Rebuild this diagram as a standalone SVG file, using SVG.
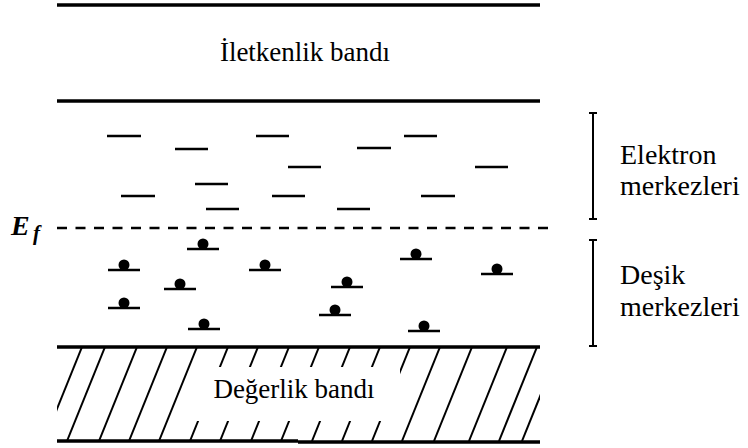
<svg xmlns="http://www.w3.org/2000/svg" width="748" height="448" viewBox="0 0 748 448">
  <defs>
    <style>
      .band { stroke: #000; stroke-width: 3.5; fill: none; }
      .lvl { stroke: #000; stroke-width: 2.5; fill: none; }
      .hatch { stroke: #000; stroke-width: 2; fill: none; }
      .fermi { stroke: #000; stroke-width: 2.5; stroke-dasharray: 10 8.5; fill: none; }
      .brk { stroke: #000; stroke-width: 2; fill: none; }
      .lbl { font-family: "Liberation Serif", "Times New Roman", serif; font-size: 28px; fill: #000; }
      .bandlbl { font-family: "Liberation Serif", "Times New Roman", serif; font-size: 27px; fill: #000; text-anchor: middle; }
      .sym { font-family: "Liberation Serif", "Times New Roman", serif; font-weight: bold; font-style: italic; fill: #000; }
    </style>
    <clipPath id="valenceClip">
      <rect x="57" y="347" width="483" height="94"/>
    </clipPath>
    <!-- hole level: short line with a filled dot resting on it -->
    <g id="hole">
      <line x1="-16" y1="0" x2="16" y2="0" class="lvl"/>
      <circle cx="0" cy="-5" r="5.5" fill="#000"/>
    </g>
  </defs>

  <rect width="748" height="448" fill="#fff"/>

  <!-- conduction band -->
  <g id="conduction-band">
    <line x1="57" y1="5" x2="298" y2="5" class="band"/>
    <line x1="298" y1="5" x2="540" y2="5" class="band"/>
    <line x1="57" y1="101" x2="298" y2="101" class="band"/>
    <line x1="298" y1="101" x2="540" y2="101" class="band"/>
    <text x="305" y="61" class="bandlbl">İletkenlik bandı</text>
  </g>

  <!-- electron trap levels -->
  <g id="electron-levels">
    <line x1="107" y1="136" x2="141" y2="136" class="lvl"/>
    <line x1="175" y1="149" x2="208" y2="149" class="lvl"/>
    <line x1="256" y1="136" x2="289" y2="136" class="lvl"/>
    <line x1="404" y1="136" x2="437" y2="136" class="lvl"/>
    <line x1="357" y1="148" x2="391" y2="148" class="lvl"/>
    <line x1="288" y1="167" x2="321" y2="167" class="lvl"/>
    <line x1="475" y1="167" x2="508" y2="167" class="lvl"/>
    <line x1="195" y1="184" x2="228" y2="184" class="lvl"/>
    <line x1="121" y1="196" x2="155" y2="196" class="lvl"/>
    <line x1="272" y1="196" x2="305" y2="196" class="lvl"/>
    <line x1="421" y1="196" x2="455" y2="196" class="lvl"/>
    <line x1="206" y1="209" x2="239" y2="209" class="lvl"/>
    <line x1="337" y1="209" x2="370" y2="209" class="lvl"/>
  </g>

  <!-- Fermi level -->
  <g id="fermi-level">
    <line x1="57" y1="228" x2="556" y2="228" class="fermi"/>
    <text x="11" y="235" class="sym" font-size="28">E</text>
    <text x="33" y="240" class="sym" font-size="21">f</text>
  </g>

  <!-- hole trap levels -->
  <g id="hole-levels">
    <use href="#hole" x="203" y="249"/>
    <use href="#hole" x="124" y="270"/>
    <use href="#hole" x="265" y="270"/>
    <use href="#hole" x="180" y="289"/>
    <use href="#hole" x="416" y="259"/>
    <use href="#hole" x="497" y="274"/>
    <use href="#hole" x="347" y="287"/>
    <use href="#hole" x="124" y="308"/>
    <use href="#hole" x="335" y="315"/>
    <use href="#hole" x="204" y="329"/>
    <use href="#hole" x="424" y="331"/>
  </g>

  <!-- valence band (hatched) -->
  <g id="valence-band">
    <g clip-path="url(#valenceClip)">
      <line x1="44" y1="441" x2="82" y2="347" class="hatch"/>
      <line x1="67" y1="441" x2="105" y2="347" class="hatch"/>
      <line x1="99" y1="441" x2="137" y2="347" class="hatch"/>
      <line x1="129" y1="441" x2="167" y2="347" class="hatch"/>
      <line x1="159" y1="441" x2="197" y2="347" class="hatch"/>
      <line x1="190" y1="441" x2="228" y2="347" class="hatch"/>
      <line x1="220" y1="441" x2="258" y2="347" class="hatch"/>
      <line x1="251" y1="441" x2="289" y2="347" class="hatch"/>
      <line x1="281" y1="441" x2="319" y2="347" class="hatch"/>
      <line x1="312" y1="441" x2="350" y2="347" class="hatch"/>
      <line x1="342" y1="441" x2="380" y2="347" class="hatch"/>
      <line x1="372" y1="441" x2="410" y2="347" class="hatch"/>
      <line x1="402" y1="441" x2="440" y2="347" class="hatch"/>
      <line x1="434" y1="441" x2="472" y2="347" class="hatch"/>
      <line x1="469" y1="441" x2="507" y2="347" class="hatch"/>
      <line x1="499" y1="441" x2="537" y2="347" class="hatch"/>
      <line x1="522" y1="441" x2="560" y2="347" class="hatch"/>
    </g>
    <rect x="193" y="367" width="207" height="54" fill="#fff"/>
    <line x1="57" y1="347" x2="540" y2="347" class="band"/>
    <line x1="57" y1="441" x2="298" y2="441" class="band"/>
    <line x1="298" y1="442" x2="540" y2="442" class="band"/>
    <text x="294" y="398" class="bandlbl">Değerlik bandı</text>
  </g>

  <!-- right-hand brackets and captions -->
  <g id="electron-centres">
    <path d="M589 113 H597 M593 113 V219 M589 219 H597" class="brk"/>
    <text x="620" y="164" class="lbl">Elektron</text>
    <text x="620" y="195" class="lbl">merkezleri</text>
  </g>
  <g id="hole-centres">
    <path d="M589 240 H597 M593 240 V346 M589 346 H597" class="brk"/>
    <text x="620" y="284" class="lbl">Deşik</text>
    <text x="620" y="316" class="lbl">merkezleri</text>
  </g>
</svg>
